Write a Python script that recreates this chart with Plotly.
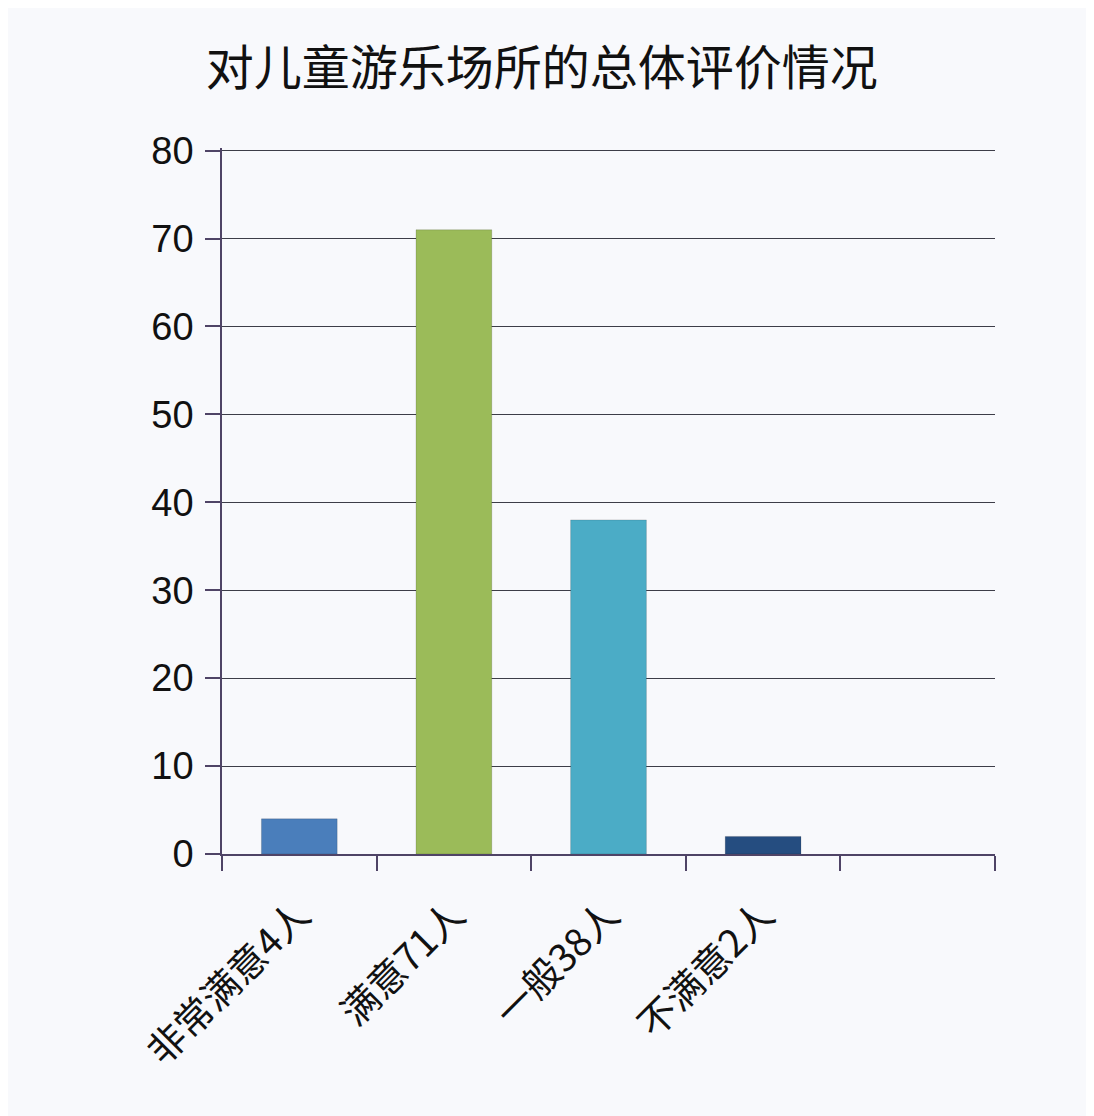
import plotly.graph_objects as go

categories = ['非常满意4人', '满意71人', '一般38人', '不满意2人', ' ']
values = [4, 71, 38, 2, None]
bar_colors = ['#4a7ebb', '#9bbb59', '#4bacc6', '#254d80', '#ffffff']
y_ticks = [0, 10, 20, 30, 40, 50, 60, 70, 80]

axis_color = '#4f4466'
bg = '#f8f9fc'

fig = go.Figure()
fig.add_trace(go.Bar(
    x=categories,
    y=values,
    marker=dict(color=bar_colors, line=dict(color='rgba(0,0,0,0.15)', width=1)),
    width=0.49,
))

# page is drawn with an 8px offset, so margins are shifted to match
fig.update_layout(
    width=1094, height=1116,
    paper_bgcolor=bg, plot_bgcolor=bg,
    margin=dict(l=214, r=107, t=140, b=270),
    showlegend=False,
    title=dict(text='对儿童游乐场所的总体评价情况', x=0.488, xanchor='center',
               y=0.946, yanchor='middle',
               font=dict(family='Noto Sans CJK SC, sans-serif', size=48, color='#111111')),
    font=dict(family='Liberation Sans, Noto Sans CJK SC, sans-serif', color='#111111'),
)

fig.update_xaxes(
    type='category',
    tickson='boundaries',
    ticks='outside', ticklen=15, tickcolor=axis_color, tickwidth=1.5,
    showline=True, linecolor=axis_color, linewidth=1.5,
    showgrid=False,
    tickangle=-45,
    ticklabelstandoff=22,
    tickfont=dict(family='Noto Sans CJK SC, sans-serif', size=38, color='#111111'),
)

# range slightly above 80 so the top gridline is drawn
fig.update_yaxes(
    range=[0, 80.3],
    tickvals=y_ticks,
    ticks='outside', ticklen=15, tickcolor=axis_color, tickwidth=1.5,
    showline=True, linecolor=axis_color, linewidth=1.5,
    showgrid=True, gridcolor='#3d3d48', gridwidth=1,
    zeroline=False,
    ticklabelstandoff=4,
    tickfont=dict(family='Liberation Sans, sans-serif', size=38, color='#111111'),
)

fig.write_html('out.html')
